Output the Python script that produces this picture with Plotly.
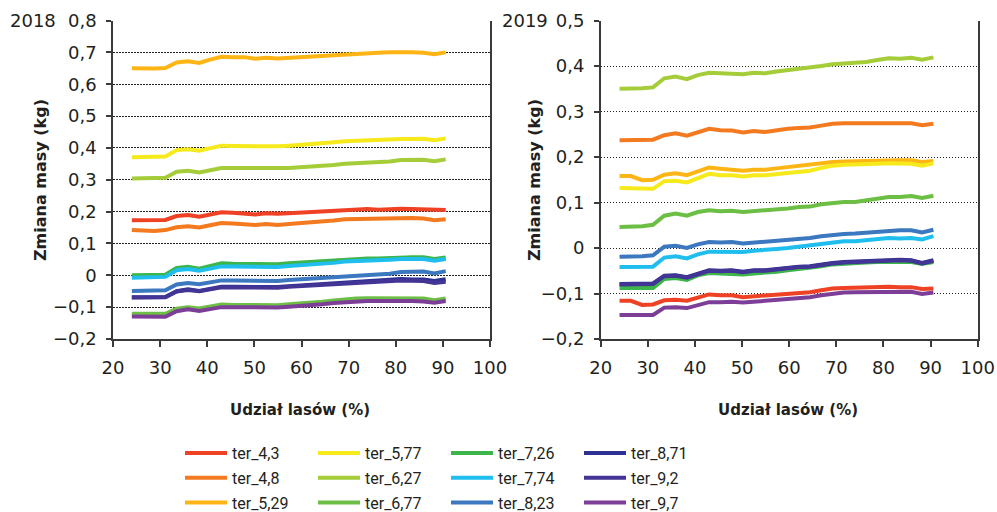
import plotly.graph_objects as go

# Forest share (%) at which the mass change was evaluated
udzial_lasow = [24.0, 26.4, 28.8, 31.1, 33.5, 35.9, 38.3, 40.6, 43.0, 45.4,
                47.8, 50.2, 52.5, 54.9, 57.3, 59.7, 62.1, 64.4, 66.8, 69.2,
                71.6, 74.0, 76.3, 78.7, 81.1, 83.5, 85.9, 88.2, 90.6]

nazwy = ["ter_4,3", "ter_4,8", "ter_5,29", "ter_5,77", "ter_6,27", "ter_6,77",
         "ter_7,26", "ter_7,74", "ter_8,23", "ter_8,71", "ter_9,2", "ter_9,7"]
kolory = ["#EF4123", "#F47A20", "#FDB515", "#F6EA1C", "#A5CD39", "#6CBE45",
          "#3CB54A", "#1FBEEF", "#3B78BF", "#2E3192", "#433595", "#7D3E98"]

# 2018 mass change (kg)
ter_4_3_2018 = [0.173, 0.173, 0.172, 0.174, 0.186, 0.189, 0.184, 0.191, 0.198, 0.196, 0.195, 0.191, 0.195, 0.193, 0.195, 0.197, 0.200, 0.201, 0.204, 0.206, 0.207, 0.208, 0.206, 0.208, 0.209, 0.208, 0.207, 0.203, 0.205]
ter_4_8_2018 = [0.142, 0.141, 0.139, 0.142, 0.151, 0.154, 0.150, 0.157, 0.164, 0.163, 0.162, 0.158, 0.161, 0.158, 0.161, 0.163, 0.166, 0.168, 0.172, 0.176, 0.177, 0.179, 0.179, 0.180, 0.180, 0.180, 0.178, 0.173, 0.176]
ter_5_29_2018 = [0.650, 0.649, 0.649, 0.651, 0.668, 0.672, 0.667, 0.677, 0.686, 0.685, 0.685, 0.680, 0.683, 0.681, 0.683, 0.685, 0.688, 0.689, 0.693, 0.696, 0.698, 0.699, 0.699, 0.700, 0.701, 0.700, 0.699, 0.694, 0.700]
ter_5_77_2018 = [0.371, 0.371, 0.372, 0.373, 0.393, 0.396, 0.391, 0.400, 0.407, 0.406, 0.406, 0.403, 0.405, 0.405, 0.407, 0.409, 0.412, 0.413, 0.418, 0.421, 0.423, 0.424, 0.424, 0.426, 0.428, 0.428, 0.429, 0.424, 0.430]
ter_6_27_2018 = [0.304, 0.304, 0.305, 0.306, 0.325, 0.328, 0.323, 0.331, 0.337, 0.337, 0.337, 0.334, 0.336, 0.335, 0.337, 0.339, 0.341, 0.342, 0.346, 0.350, 0.352, 0.353, 0.353, 0.357, 0.362, 0.363, 0.363, 0.358, 0.364]
ter_6_77_2018 = [-0.121, -0.121, -0.121, -0.121, -0.105, -0.100, -0.104, -0.098, -0.092, -0.093, -0.093, -0.096, -0.095, -0.094, -0.091, -0.089, -0.086, -0.083, -0.079, -0.075, -0.073, -0.072, -0.072, -0.071, -0.071, -0.072, -0.073, -0.078, -0.073]
ter_7_26_2018 = [0.000, 0.000, 0.001, 0.002, 0.023, 0.027, 0.021, 0.030, 0.038, 0.036, 0.036, 0.034, 0.035, 0.035, 0.038, 0.040, 0.043, 0.045, 0.048, 0.051, 0.052, 0.053, 0.053, 0.055, 0.057, 0.057, 0.057, 0.051, 0.056]
ter_7_74_2018 = [-0.008, -0.008, -0.007, -0.005, 0.016, 0.020, 0.014, 0.021, 0.028, 0.028, 0.028, 0.025, 0.026, 0.026, 0.029, 0.031, 0.034, 0.035, 0.039, 0.043, 0.044, 0.045, 0.046, 0.049, 0.051, 0.051, 0.051, 0.046, 0.051]
ter_8_23_2018 = [-0.049, -0.049, -0.048, -0.047, -0.029, -0.024, -0.028, -0.022, -0.016, -0.016, -0.016, -0.019, -0.018, -0.018, -0.015, -0.013, -0.009, -0.006, -0.004, -0.002, 0.000, 0.001, 0.002, 0.005, 0.010, 0.012, 0.012, 0.006, 0.013]
ter_8_71_2018 = [-0.069, -0.069, -0.069, -0.068, -0.050, -0.044, -0.049, -0.042, -0.036, -0.036, -0.036, -0.039, -0.037, -0.037, -0.034, -0.032, -0.029, -0.028, -0.024, -0.021, -0.019, -0.018, -0.017, -0.015, -0.012, -0.013, -0.013, -0.018, -0.012]
ter_9_2_2018 = [-0.070, -0.070, -0.070, -0.069, -0.051, -0.046, -0.050, -0.044, -0.038, -0.038, -0.038, -0.040, -0.039, -0.039, -0.036, -0.034, -0.031, -0.030, -0.026, -0.023, -0.021, -0.020, -0.019, -0.018, -0.016, -0.017, -0.018, -0.024, -0.020]
ter_9_7_2018 = [-0.129, -0.129, -0.130, -0.130, -0.113, -0.107, -0.112, -0.106, -0.100, -0.100, -0.100, -0.103, -0.102, -0.101, -0.099, -0.097, -0.094, -0.091, -0.087, -0.084, -0.082, -0.081, -0.081, -0.080, -0.080, -0.081, -0.082, -0.086, -0.081]

# 2019 mass change (kg)
ter_4_3_2019 = [-0.116, -0.116, -0.125, -0.124, -0.115, -0.114, -0.116, -0.110, -0.102, -0.104, -0.104, -0.108, -0.106, -0.105, -0.104, -0.101, -0.099, -0.097, -0.093, -0.089, -0.088, -0.087, -0.087, -0.087, -0.085, -0.086, -0.086, -0.090, -0.089]
ter_4_8_2019 = [0.237, 0.237, 0.237, 0.238, 0.248, 0.252, 0.247, 0.255, 0.262, 0.259, 0.258, 0.254, 0.257, 0.255, 0.259, 0.262, 0.264, 0.265, 0.269, 0.273, 0.274, 0.274, 0.274, 0.276, 0.276, 0.275, 0.274, 0.270, 0.273]
ter_5_29_2019 = [0.158, 0.158, 0.149, 0.150, 0.161, 0.164, 0.160, 0.169, 0.177, 0.174, 0.173, 0.170, 0.172, 0.172, 0.175, 0.178, 0.180, 0.182, 0.185, 0.189, 0.190, 0.191, 0.192, 0.193, 0.194, 0.193, 0.193, 0.189, 0.191]
ter_5_77_2019 = [0.132, 0.132, 0.131, 0.130, 0.147, 0.148, 0.144, 0.154, 0.163, 0.160, 0.160, 0.157, 0.160, 0.160, 0.163, 0.166, 0.169, 0.170, 0.176, 0.181, 0.183, 0.183, 0.184, 0.185, 0.186, 0.186, 0.185, 0.181, 0.186]
ter_6_27_2019 = [0.350, 0.350, 0.351, 0.353, 0.373, 0.377, 0.371, 0.380, 0.385, 0.384, 0.384, 0.382, 0.385, 0.384, 0.388, 0.391, 0.394, 0.395, 0.400, 0.404, 0.406, 0.406, 0.409, 0.413, 0.417, 0.416, 0.418, 0.414, 0.419]
ter_6_77_2019 = [0.046, 0.046, 0.048, 0.051, 0.071, 0.076, 0.071, 0.079, 0.083, 0.081, 0.082, 0.079, 0.081, 0.081, 0.084, 0.087, 0.090, 0.091, 0.096, 0.099, 0.101, 0.101, 0.104, 0.109, 0.112, 0.112, 0.114, 0.110, 0.115]
ter_7_26_2019 = [-0.088, -0.088, -0.088, -0.088, -0.068, -0.066, -0.070, -0.060, -0.055, -0.056, -0.055, -0.058, -0.056, -0.055, -0.052, -0.049, -0.046, -0.045, -0.040, -0.036, -0.034, -0.033, -0.032, -0.031, -0.030, -0.031, -0.031, -0.035, -0.031]
ter_7_74_2019 = [-0.042, -0.042, -0.042, -0.041, -0.021, -0.018, -0.023, -0.014, -0.008, -0.008, -0.008, -0.009, -0.006, -0.005, -0.002, 0.000, 0.003, 0.004, 0.008, 0.012, 0.015, 0.015, 0.017, 0.020, 0.022, 0.021, 0.022, 0.019, 0.026]
ter_8_23_2019 = [-0.019, -0.019, -0.018, -0.016, 0.003, 0.005, 0.000, 0.008, 0.013, 0.012, 0.013, 0.010, 0.012, 0.013, 0.015, 0.018, 0.021, 0.022, 0.026, 0.029, 0.031, 0.032, 0.034, 0.037, 0.039, 0.039, 0.039, 0.034, 0.040]
ter_8_71_2019 = [-0.079, -0.079, -0.079, -0.078, -0.061, -0.060, -0.064, -0.056, -0.049, -0.050, -0.049, -0.052, -0.049, -0.049, -0.046, -0.043, -0.041, -0.040, -0.036, -0.033, -0.031, -0.030, -0.029, -0.027, -0.025, -0.026, -0.027, -0.033, -0.027]
ter_9_2_2019 = [-0.080, -0.080, -0.080, -0.079, -0.062, -0.061, -0.065, -0.057, -0.050, -0.051, -0.050, -0.053, -0.050, -0.050, -0.047, -0.044, -0.042, -0.041, -0.037, -0.034, -0.032, -0.031, -0.030, -0.028, -0.026, -0.027, -0.028, -0.034, -0.028]
ter_9_7_2019 = [-0.147, -0.147, -0.147, -0.147, -0.131, -0.130, -0.132, -0.125, -0.119, -0.119, -0.118, -0.120, -0.118, -0.117, -0.115, -0.111, -0.109, -0.108, -0.104, -0.100, -0.098, -0.097, -0.097, -0.096, -0.095, -0.096, -0.096, -0.101, -0.098]

seria_2018 = [ter_4_3_2018, ter_4_8_2018, ter_5_29_2018, ter_5_77_2018, ter_6_27_2018, ter_6_77_2018,
              ter_7_26_2018, ter_7_74_2018, ter_8_23_2018, ter_8_71_2018, ter_9_2_2018, ter_9_7_2018]
seria_2019 = [ter_4_3_2019, ter_4_8_2019, ter_5_29_2019, ter_5_77_2019, ter_6_27_2019, ter_6_77_2019,
              ter_7_26_2019, ter_7_74_2019, ter_8_23_2019, ter_8_71_2019, ter_9_2_2019, ter_9_7_2019]

FONT = "DejaVu Sans"
LEG_FONT = "Roboto"
TXT = "#231F20"
AX = "#3a3a3a"

fig = go.Figure()
legendy = ["legend", "legend2", "legend3", "legend4"]
for i, (nazwa, kolor) in enumerate(zip(nazwy, kolory)):
    fig.add_trace(go.Scatter(x=udzial_lasow, y=seria_2018[i], name=nazwa, mode="lines",
                             line=dict(color=kolor, width=4), xaxis="x", yaxis="y",
                             legend=legendy[i // 3], legendgroup=nazwa))
for i, (nazwa, kolor) in enumerate(zip(nazwy, kolory)):
    fig.add_trace(go.Scatter(x=udzial_lasow, y=seria_2019[i], name=nazwa, mode="lines",
                             line=dict(color=kolor, width=4), xaxis="x2", yaxis="y2",
                             legendgroup=nazwa, showlegend=False))

W, H = 997, 512
top_px, bot_px = 20.5, 339
ydom = [1 - bot_px / H, 1 - top_px / H]

def xax(dom, anchor):
    return dict(domain=dom, anchor=anchor, range=[20, 100], dtick=10, tick0=20,
                automargin=False,
                showgrid=False, zeroline=False, showline=True, linecolor=AX, linewidth=1.5,
                ticks="outside", ticklen=6, tickcolor=AX, tickwidth=1.5,
                ticklabelstandoff=6, tickfont=dict(family=FONT, size=18, color=TXT))

def yax(rng, anchor, grid):
    return dict(domain=ydom, anchor=anchor, range=rng, dtick=0.1, tick0=0,
                automargin=False,
                showgrid=False, zeroline=False, showline=True, mirror=True,
                linecolor=AX, linewidth=1.5, ticks="outside", ticklen=5,
                tickcolor=AX, tickwidth=1.5, ticklabelstandoff=6,
                tickfont=dict(family=FONT, size=18, color=TXT),
                minor=dict(tickvals=grid, showgrid=True, gridcolor="#222",
                           griddash="1.5px,1.5px", gridwidth=1, ticks=""))

grid18 = [-0.1, 0.0, 0.1, 0.2, 0.3, 0.4, 0.5, 0.6, 0.7]
grid19 = [-0.1, 0.0, 0.1, 0.2, 0.3, 0.4]

leg_common = dict(orientation="v", xanchor="left", yanchor="top", bgcolor="rgba(0,0,0,0)",
                  xref="container", yref="container",
                  font=dict(family=LEG_FONT, size=16, color=TXT), tracegroupgap=1,
                  itemwidth=42)
col_px = [180, 313, 446, 579]
leg_y = 1 - 436 / H

layout = dict(
    width=W, height=H, margin=dict(l=0, r=0, t=0, b=0, autoexpand=False),
    paper_bgcolor="white", plot_bgcolor="white", separators=", ",
    xaxis=xax([113 / W, 490 / W], "y"),
    yaxis=yax([-0.2, 0.8], "x", grid18),
    xaxis2=xax([600.7 / W, 977.7 / W], "y2"),
    yaxis2=yax([-0.2, 0.5], "x2", grid19),
    showlegend=True,
)
for k, name in enumerate(legendy):
    layout[name] = dict(leg_common, x=col_px[k] / W, y=leg_y)
fig.update_layout(**layout)

ann = []
for xc, year in [(33 / W, "2018"), (525 / W, "2019")]:
    ann.append(dict(x=xc, y=1 - 20 / H, xref="paper", yref="paper", text=year,
                    xanchor="center", yanchor="middle",
                    showarrow=False, font=dict(family=FONT, size=18, color=TXT)))
for xc in [40 / W, 534 / W]:
    ann.append(dict(x=xc, y=1 - 180 / H, xref="paper", yref="paper",
                    text="<b>Zmiana masy (kg)</b>", textangle=-90, showarrow=False,
                    xanchor="center", yanchor="middle",
                    font=dict(family=FONT, size=16, color=TXT)))
for xc in [300 / W, 788 / W]:
    ann.append(dict(x=xc, y=1 - 410 / H, xref="paper", yref="paper",
                    text="<b>Udział lasów (%)</b>", showarrow=False,
                    xanchor="center", yanchor="middle",
                    font=dict(family=FONT, size=15, color=TXT)))
fig.update_layout(annotations=ann)

fig.write_html("out.html")
